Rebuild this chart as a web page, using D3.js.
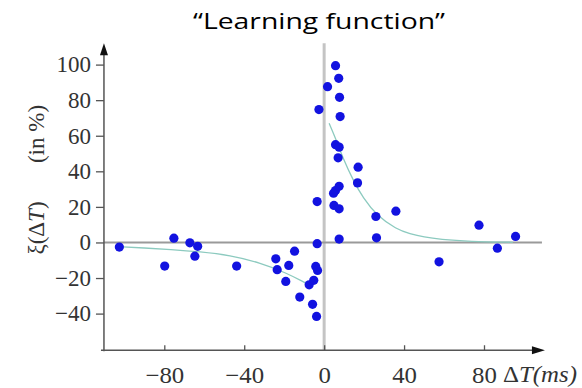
<!DOCTYPE html>
<html><head><meta charset="utf-8">
<script src="https://cdn.jsdelivr.net/npm/d3@7"></script>
<style>
html,body{margin:0;padding:0;background:#fff;}
svg{display:block;}
</style></head>
<body>
<svg id="c" width="582" height="388"></svg>
<script>
// ---- data ----
const title = "\u201CLearning function\u201D";
const xTicks = [-80, -40, 0, 40, 80];
const yTicks = [-40, -20, 0, 20, 40, 60, 80, 100];
const pointsX = [-102.5,-79.8,-75.2,-67.2,-63.3,-64.7,-43.8,-24.2,-23.5,-17.7,-14.8,-19.2,-12.2,-5.8,-3.8,-7.5,-5.2,-4.2,-3.3,-3.5,-3.5,-2.6,1.7,
  5.7,7.3,7.7,8,5.7,7.5,7,17,16.7,7.5,5.7,4.7,4.9,7.5,7.5,25.9,26.2,35.9,57.5,77.5,86.7,95.8];
const pointsY = [-2.6,-13.3,2.4,-0.2,-2.2,-7.7,-13.3,-9.2,-15.3,-12.9,-4.9,-21.9,-30.7,-34.8,-41.6,-23.8,-21.3,-13.5,-15.7,-0.7,23,74.7,87.6,
  99.4,92.3,81.6,70.8,55,53.6,47.6,42.3,33.5,31.6,29.2,27.7,20.8,18.9,1.9,14.6,2.6,17.6,-10.9,9.7,-3.2,3.4];
// fitted curve
const fitNegX = [-103,-90,-77,-62,-47.2,-32.2,-18.8,-10.5,-7];
const fitNegY = [-2.4,-3.1,-3.9,-5.2,-7.2,-11.3,-17.2,-22.1,-24.2];
const fitPosX = [2.5,6.2,9.5,14.5,19.5,26.2,36.2,42.9,50,57.9,72.9,94.4];
const fitPosY = [67,57.3,47,35,25,15.3,7.4,4.9,3,1.7,0.5,0.1];

// ---- drawing ----
const SERIF = '"Liberation Serif", "Tinos", "Times New Roman", serif';
const svg = d3.select("#c");
const x = d3.scaleLinear().domain([-80, 80]).range([164.3, 484]);
const y = d3.scaleLinear().domain([-40, 100]).range([313.6, 64.6]);
const xMin = -110.2, xMax = 110.5, yMin = -60.6, yMax = 112;
const axisCol = "#555";

// zero lines
svg.append("line").attr("x1", x(0)).attr("x2", x(0)).attr("y1", y(yMax)).attr("y2", y(yMin))
  .attr("stroke", "#c4c4c4").attr("stroke-width", 3);
svg.append("line").attr("x1", x(xMin)).attr("x2", x(109)).attr("y1", y(0)).attr("y2", y(0))
  .attr("stroke", "#9a9a9a").attr("stroke-width", 2);

// axes
const gy = svg.append("g").attr("transform", `translate(${x(xMin)},0)`)
  .call(d3.axisLeft(y).tickValues(yTicks).tickSize(8).tickPadding(5));
const gx = svg.append("g").attr("transform", `translate(0,${y(yMin)})`)
  .call(d3.axisBottom(x).tickValues(xTicks).tickSizeInner(-5).tickSizeOuter(0).tickPadding(16));
[gx, gy].forEach(g => {
  g.attr("font-family", SERIF).attr("font-size", 23);
  g.select(".domain").remove();
  g.selectAll(".tick line").attr("stroke", axisCol).attr("stroke-width", 1.3);
  g.selectAll(".tick text").attr("fill", "#333").style("font-family", SERIF).style("font-size", "23px");
});
gx.selectAll(".tick text").attr("transform", "scale(1.08,1)");
svg.append("line").attr("x1", x(xMin)).attr("x2", x(xMin)).attr("y1", y(yMax) + 6).attr("y2", y(yMin) + 1)
  .attr("stroke", axisCol).attr("stroke-width", 1.5);
svg.append("line").attr("x1", x(xMin) - 3).attr("x2", x(xMax) - 8).attr("y1", y(yMin)).attr("y2", y(yMin))
  .attr("stroke", axisCol).attr("stroke-width", 1.5);
// arrow heads
const ax = x(xMin), ay = y(yMax);
svg.append("path").attr("d", `M${ax},${ay} L${ax - 4},${ay + 12} L${ax + 4},${ay + 12} Z`).attr("fill", "#111");
const bx = x(xMax), by = y(yMin);
svg.append("path").attr("d", `M${bx},${by} L${bx - 13},${by - 4} L${bx - 13},${by + 4} Z`).attr("fill", "#111");

// fit curves
const line = d3.line().x(d => x(d[0])).y(d => y(d[1])).curve(d3.curveBasis);
svg.append("path").attr("d", line(d3.zip(fitNegX, fitNegY))).attr("fill", "none")
  .attr("stroke", "#8ccabf").attr("stroke-width", 1.3);
svg.append("path").attr("d", line(d3.zip(fitPosX, fitPosY))).attr("fill", "none")
  .attr("stroke", "#8ccabf").attr("stroke-width", 1.3);

// points
svg.append("g").selectAll("circle").data(d3.zip(pointsX, pointsY)).join("circle")
  .attr("cx", d => x(d[0])).attr("cy", d => y(d[1])).attr("r", 4.6).attr("fill", "#1212e0");

// x axis label
const xl = svg.append("g").attr("transform", `translate(${x(80) + 19},${y(yMin) + 32}) scale(1.08,1)`)
  .append("text").style("font-family", SERIF).style("font-size", "23px").attr("fill", "#333");
xl.append("tspan").text("\u0394");
xl.append("tspan").style("font-style", "italic").text("T(ms)");

// y axis label
const yl1 = svg.append("text").attr("transform", `translate(44,134) rotate(-90)`).attr("text-anchor", "middle")
  .style("font-family", SERIF).style("font-size", "23px").attr("fill", "#333").text("(in %)");
const yl2 = svg.append("text").attr("transform", `translate(44,228) rotate(-90)`).attr("text-anchor", "middle")
  .style("font-family", SERIF).style("font-size", "23px").attr("fill", "#333");
yl2.append("tspan").text("\u03BE(\u0394");
yl2.append("tspan").style("font-style", "italic").text("T");
yl2.append("tspan").text(")");

// title
svg.append("text").attr("x", 319).attr("y", 29).attr("text-anchor", "middle")
  .attr("textLength", 252).attr("lengthAdjust", "spacingAndGlyphs")
  .style("font-family", "'Open Sans',sans-serif").style("font-size", "22px").attr("fill", "#000").text(title);
</script>
</body></html>
